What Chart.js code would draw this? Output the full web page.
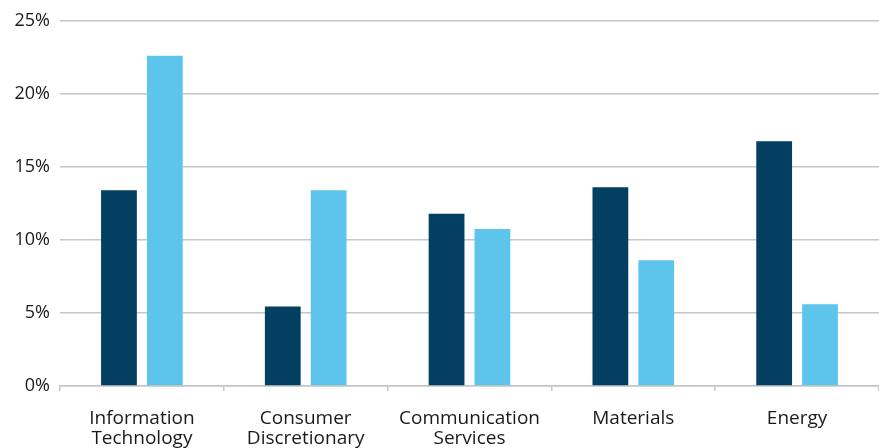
<!DOCTYPE html>
<html>
  <head>
    <meta charset="utf-8" />
    <title>Sector weights</title>
    <script src="https://cdn.jsdelivr.net/npm/chart.js@4.4.1/dist/chart.umd.min.js"></script>
    <style>
      html, body { margin: 0; padding: 0; background: #fff; }
      #wrap { width: 879px; height: 448px; }
    </style>
  </head>
  <body>
    <div id="wrap"><canvas id="myChart"></canvas></div>
    <script>
      const sectors = [
        ["Information", "Technology"],
        ["Consumer", "Discretionary"],
        ["Communication", "Services"],
        ["Materials"],
        ["Energy"],
      ];
      const darkSeries = [13.4, 5.45, 11.8, 13.6, 16.75];
      const lightSeries = [22.6, 13.4, 10.75, 8.6, 5.6];
      const yTicks = [0, 5, 10, 15, 20, 25];

      const gridColor = "#c6c6c6";
      const textColor = "#1a1a1a";
      const fontFamily = "'Open Sans', 'Noto Sans', sans-serif";

      const config = {
        type: "bar",
        data: {
          labels: sectors,
          datasets: [
            {
              label: "Series 1",
              data: darkSeries,
              backgroundColor: "#023f61",
              categoryPercentage: 0.56,
              barPercentage: 0.78,
            },
            {
              label: "Series 2",
              data: lightSeries,
              backgroundColor: "#5dc5eb",
              categoryPercentage: 0.56,
              barPercentage: 0.78,
            },
          ],
        },
        options: {
          responsive: true,
          maintainAspectRatio: false,
          animation: false,
          layout: { padding: { top: 18, right: 0, left: 0, bottom: 0 } },
          plugins: {
            legend: { display: false },
            tooltip: { enabled: false },
          },
          scales: {
            x: {
              grid: {
                display: true,
                drawOnChartArea: false,
                offset: true,
                tickLength: 5,
                color: gridColor,
                lineWidth: 1.5,
              },
              border: { display: true, color: gridColor, width: 1.5 },
              ticks: {
                color: textColor,
                font: { family: fontFamily, size: 19, lineHeight: 1.05 },
                maxRotation: 0,
                autoSkip: false,
                padding: 18,
              },
              afterFit: (s) => {
                s.height = 62;
              },
            },
            y: {
              min: 0,
              max: 25,
              afterBuildTicks: (s) => {
                s.ticks = yTicks.map((v) => ({ value: v }));
              },
              grid: {
                color: gridColor,
                lineWidth: 1.5,
                drawTicks: false,
              },
              border: { display: false },
              ticks: {
                color: textColor,
                font: { family: fontFamily, size: 18 },
                padding: 10,
                callback: (v) => v + "%",
              },
              afterFit: (s) => {
                s.width = 60;
              },
            },
          },
        },
      };
      const ctx = document.getElementById("myChart");
      const myChart = new Chart(ctx, config);
    </script>
  </body>
</html>
